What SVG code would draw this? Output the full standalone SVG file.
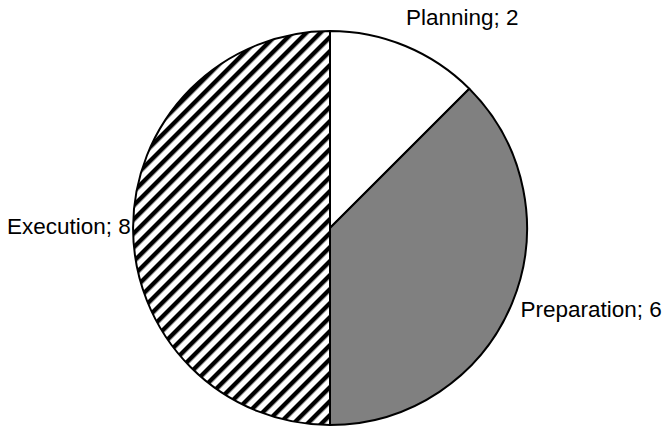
<svg xmlns="http://www.w3.org/2000/svg" width="662" height="428" viewBox="0 0 662 428">
<style>
.slice{stroke:#000;stroke-width:2;stroke-linejoin:round}
.lbl{font-family:"Liberation Sans",Arial,sans-serif;font-size:22.5px;fill:#000}
</style>
<defs>
<pattern id="hatch" patternUnits="userSpaceOnUse" width="9.9" height="9.9" patternTransform="rotate(45)">
<rect width="9.9" height="9.9" fill="#fff"/>
<rect x="0" y="0" width="4.4" height="9.9" fill="#000"/>
</pattern>
</defs>
<rect width="662" height="428" fill="#fff"/>
<g id="execution">
<path class="slice" d="M330,228 L330,425 A197,197 0 0 1 330,31 Z" fill="url(#hatch)"/>
<text class="lbl" x="7" y="234">Execution; 8</text>
</g>
<g id="planning">
<path class="slice" d="M330,228 L330,31 A197,197 0 0 1 469.3,88.7 Z" fill="#fff"/>
<text class="lbl" x="406" y="25">Planning; 2</text>
</g>
<g id="preparation">
<path class="slice" d="M330,228 L469.3,88.7 A197,197 0 0 1 330,425 Z" fill="#808080"/>
<text class="lbl" x="520.5" y="317">Preparation; 6</text>
</g>
<g id="connectors"></g>
</svg>
